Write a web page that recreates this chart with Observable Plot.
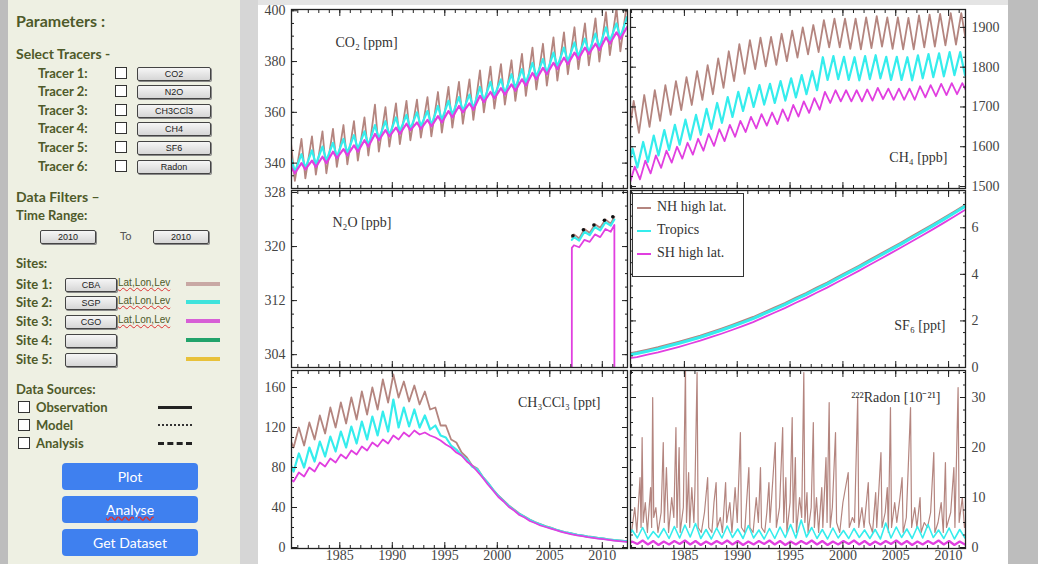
<!DOCTYPE html>
<html><head><meta charset="utf-8">
<script src="https://cdn.jsdelivr.net/npm/d3@7"></script>
<script src="https://cdn.jsdelivr.net/npm/@observablehq/plot@0.6"></script>
<style>
body{margin:0;background:#c4c4c4;}
#root{position:relative;width:1038px;height:564px;overflow:hidden;background:#bdbdbd;font-family:Lato,"Open Sans",sans-serif;}
#side{position:absolute;left:8px;top:0;width:232px;height:564px;background:#eef0e3;}
#gap{position:absolute;left:240px;top:0;width:18px;height:564px;background:#d6d6d6;}
#chart{position:absolute;left:258px;top:0;width:750px;height:564px;background:#fff;}
#chartTop{position:absolute;left:258px;top:0;width:750px;height:5px;background:#e4e4e4;}
.t{position:absolute;color:#4e5a2a;font-weight:700;white-space:nowrap;line-height:1;}
.cb{position:absolute;width:10px;height:10px;border:1.5px solid #333;background:#fff;}
.btn{position:absolute;height:12px;border:1px solid #444;border-radius:2px;background:linear-gradient(#f6f6f6,#d6d6d6);font:9px "Liberation Sans",sans-serif;color:#222;text-align:center;line-height:12px;box-shadow:1px 1px 0 #888;}
.ll{position:absolute;font:10px "Liberation Sans",sans-serif;color:#4e5a2a;text-decoration:underline wavy #d33;white-space:nowrap;}
.bar{position:absolute;height:4px;width:34px;}
.blue{position:absolute;left:62px;width:136px;height:27px;background:#3f80ef;border-radius:4px;color:#fff;font:14px Lato,"Open Sans",sans-serif;text-align:center;line-height:27px;}
.pl{position:absolute;}
#legend{position:absolute;left:632px;top:193px;width:110px;height:82px;border:1.5px solid #333;background:#fff;font:14px "Liberation Serif",serif;color:#333;}
#legend div{position:absolute;left:4px;white-space:nowrap;}
#legend span{display:inline-block;width:14px;height:2px;vertical-align:middle;margin-right:6px;}
</style>
</head><body>
<div id="root">
  <div id="side"></div><div id="gap"></div><div id="chart"></div><div id="chartTop"></div>
</div>
<script>
// ---------------- data ----------------
const colNH = "#b4857f", colTr = "#35eded", colSH = "#e13fe0";
const seriesNames = ["NH high lat.", "Tropics", "SH high lat."];

// CO2 [ppm], 1980..2012 : seasonal peak / trough
const co2Start = 1980;
const co2NHpk = [348,349.5,350.5,352.5,353.5,355,356.5,358,363,362,363.5,364.5,365,366,368,370,372,373,376.5,378,379,380.5,383,385.5,387,389.5,391.5,393.5,395,397,399.5,401,403];
const co2NHtr = [333,334,335.5,336,338.5,339.5,341,343,344.5,346.5,347.5,349,350,350.5,352,354,355.5,357,360,361.5,363,364.5,366.5,369,370.5,372.5,375,377,378.5,380,382.5,384,386];
const co2TRpk = [342,343.5,345,346.5,348,349.5,351,352.5,355,356.5,358,359,360,360.5,362.5,364.5,366,367,370,372,373,375,377,379.5,381,383.5,385.5,387.5,389,391,393.5,395,397.5];
const co2TRtr = [336.5,338,339.5,341,342.5,344,345.5,347,349.5,351,352.5,353.5,354.5,355,357,359,360.5,361.5,364.5,366.5,367.5,369.5,371.5,374,375.5,378,380,382,383.5,385.5,388,389.5,392];
const co2SHpk = [338.5,340,341,342.5,344.5,345.5,347,349,351.5,353,354,355.5,356,357,358.5,360.5,362.5,363.5,366.5,368,369.5,371,373,375.5,377.5,379.5,381.5,383.5,385.5,387,389.5,391.5,393.5];
const co2SHtr = [336,337.5,338.5,340,342,343,344.5,346.5,349,350.5,351.5,353,353.5,354.5,356,358,360,361,364,365.5,367,368.5,370.5,373,375,377,379,381,383,384.5,387,389,391];

// CH4 [ppb], 1979..2012
const ch4Start = 1979;
const ch4NHpk = [1700,1715,1730,1742,1755,1765,1775,1790,1805,1822,1840,1858,1868,1874,1876,1884,1892,1900,1906,1918,1922,1922,1922,1925,1928,1925,1925,1924,1930,1932,1934,1936,1936,1938];
const ch4NHtr = [1620,1635,1650,1665,1680,1692,1705,1718,1732,1748,1765,1783,1795,1802,1806,1815,1824,1832,1838,1850,1850,1846,1845,1848,1852,1846,1845,1845,1850,1852,1855,1857,1857,1858];
const ch4TRpk = [1580,1595,1612,1628,1642,1655,1668,1680,1695,1710,1725,1738,1748,1755,1758,1765,1772,1780,1790,1825,1828,1826,1825,1828,1830,1826,1826,1825,1830,1833,1835,1838,1838,1840];
const ch4TRtr = [1535,1548,1562,1578,1592,1605,1618,1630,1645,1660,1675,1690,1700,1706,1710,1716,1724,1732,1742,1768,1770,1768,1767,1770,1772,1768,1768,1767,1772,1775,1777,1780,1780,1782];
const ch4SHpk = [1535,1550,1565,1578,1590,1600,1610,1620,1632,1644,1655,1665,1675,1682,1686,1694,1705,1714,1722,1738,1742,1742,1742,1744,1748,1746,1746,1746,1752,1755,1758,1760,1760,1762];
const ch4SHtr = [1505,1518,1533,1547,1560,1570,1580,1590,1602,1614,1625,1637,1646,1653,1657,1665,1676,1685,1693,1710,1714,1714,1714,1716,1720,1718,1718,1718,1724,1727,1730,1732,1733,1734];

// N2O [ppb] : record only 2007-2011 (SH run drops to zero outside)
const n2oT  = [1980,2007.05,2007.1,2007.3,2007.8,2008.3,2008.8,2009.3,2009.8,2010.3,2010.8,2011.15,2011.2,2012.5];
const n2oNH = [null,null,321.4,321.8,321.2,322.6,322.0,323.3,322.8,324.0,323.4,324.4,null,null];
const n2oTR = [null,null,321.0,321.4,320.9,322.2,321.7,322.9,322.4,323.6,323.1,324.0,null,null];
const n2oSH = [0,0,319.8,320.2,319.9,321.0,320.7,321.8,321.4,322.6,322.2,323.2,0,0];
const n2oObsT = [2007.2,2008.2,2009.2,2010.2,2011.0];
const n2oObsV = [321.6,322.5,323.2,323.9,324.4];

// SF6 [ppt], annual 1979..2012
const sf6Start = 1979;
const sf6NH = [0.59,0.67,0.77,0.87,0.99,1.11,1.24,1.37,1.52,1.67,1.83,2.0,2.17,2.37,2.57,2.77,2.99,3.2,3.43,3.65,3.89,4.13,4.37,4.62,4.87,5.12,5.37,5.63,5.89,6.15,6.42,6.69,6.97,7.25];
const sf6TR = [0.52,0.6,0.7,0.8,0.92,1.04,1.17,1.3,1.45,1.6,1.76,1.93,2.1,2.3,2.5,2.7,2.92,3.13,3.36,3.58,3.82,4.06,4.3,4.55,4.8,5.05,5.3,5.56,5.82,6.08,6.35,6.62,6.9,7.18];
const sf6SH = [0.38,0.45,0.55,0.65,0.77,0.89,1.02,1.15,1.3,1.45,1.61,1.78,1.95,2.15,2.35,2.55,2.77,2.98,3.21,3.43,3.67,3.91,4.15,4.4,4.65,4.9,5.15,5.41,5.67,5.93,6.2,6.47,6.75,7.03];

// CH3CCl3 [ppt], 1979..2012
const mcStart = 1979;
const mcNHpk = [108,112,120,125,132,140,145,150,156,160,168,173,166,162,156,140,122,105,90,79,65,52,42,34,28,23.5,20,16.5,14,12,10.5,9,7.5,6.5];
const mcNHtr = [96,100,102,108,114,120,124,128,133,138,145,150,146,143,138,122,108,95,82,71,58,47,38,31,25.5,21.5,18,15,12.8,11,9.5,8.2,7,6];
const mcTRpk = [84,88,94,100,106,111,116,121,126,131,136,148,140,138,132,122,110,98,88,78,64.5,51.5,41.5,33.5,27.5,23,19.5,16.2,13.8,11.8,10.2,8.8,7.3,6.3];
const mcTRtr = [73,76,80,86,91,96,100,104,108,112,116,120,121,120,118,112,102,92,81,70.5,57.5,46.5,37.5,30.5,25,21,17.8,14.8,12.6,10.8,9.3,8,6.8,5.8];
const mcSHpk = [66,70,75,80,85,89,93,97,101,105,108,112,115,117,115,110,103,95,86,76,63,50.5,40.5,32.5,26.5,22,18.8,15.6,13.2,11.3,9.7,8.3,6.9,5.9];
const mcSHtr = [62,66,71,76,81,85,89,93,97,101,104,108,111,113,112,107,100,92,82,70,57,46,37,30,24.5,20.5,17.3,14.4,12.2,10.4,8.9,7.6,6.4,5.5];

// 222Radon [1e-21], NH high lat (spiky record)
const rnNHt = [1979.8,1980.0,1980.3,1980.5,1980.8,1980.9,1981.0,1981.1,1981.3,1981.5,1981.8,1981.9,1982.0,1982.1,1982.3,1982.5,1982.8,1983.0,1983.1,1983.3,1983.5,1983.8,1984.0,1984.2,1984.3,1984.5,1984.6,1984.9,1985.1,1985.2,1985.4,1985.5,1985.7,1985.9,1986.0,1986.2,1986.3,1986.6,1986.9,1987.2,1987.3,1987.6,1987.8,1988.0,1988.1,1988.4,1988.6,1988.9,1989.0,1989.3,1989.5,1989.8,1990.0,1990.3,1990.4,1990.7,1991.1,1991.2,1991.5,1991.8,1992.0,1992.2,1992.3,1992.6,1992.8,1993.0,1993.1,1993.6,1993.7,1994.0,1994.3,1994.4,1994.6,1994.7,1995.0,1995.2,1995.3,1995.5,1995.6,1995.9,1996.1,1996.3,1996.4,1996.6,1996.7,1997.0,1997.2,1997.3,1997.5,1997.7,1998.0,1998.1,1998.4,1998.5,1998.7,1998.8,1999.0,1999.3,1999.4,1999.7,2000.0,2000.5,2000.6,2000.9,2001.1,2001.4,2001.5,2001.8,2002.0,2002.4,2002.5,2002.8,2003.1,2003.2,2003.6,2003.7,2004.0,2004.2,2004.3,2004.5,2004.6,2004.9,2005.1,2005.4,2005.6,2005.7,2006.0,2006.4,2006.5,2006.8,2007.0,2007.3,2007.4,2007.7,2008.0,2008.3,2008.6,2008.7,2009.0,2009.3,2009.5,2009.7,2009.8,2010.2,2010.5,2010.6,2010.9,2011.0,2011.3,2011.5,2011.7];
const rnNHv = [4,3,8,3,14,4,22,5,9,3,12,4,30,6,8,3,7,21,5,16,3,10,6,24,4,20,3,8,36,5,15,4,12,5,12,35,4,3,7,14,4,3,9,13,4,6,3,13,5,9,3,12,5,23,4,3,16,4,3,10,5,16,4,3,7,13,5,21,4,8,24,5,14,3,9,26,5,18,3,10,6,35,5,11,3,8,25,4,10,3,12,4,18,5,29,4,8,23,5,3,9,15,4,6,5,30,4,8,4,13,5,3,11,4,19,4,7,12,3,28,4,9,5,10,14,3,6,28,4,8,4,10,3,5,4,7,19,3,5,9,3,17,4,7,16,4,32,5,10,4,6];
// Tropics / SH, 1979..2012 seasonal peak / trough
const rnStart = 1979;
const rnTRpk = [3.2,3.5,4.0,3.2,3.8,4.2,4.5,4.8,3.6,3.9,4.3,3.7,4.4,3.5,3.8,4.1,4.6,5.5,4.0,3.6,3.9,3.4,3.8,3.5,3.6,4.9,4.1,3.7,4.2,4.6,3.5,3.9,3.6,3.5];
const rnTRtr = [1.8,1.9,1.7,2.0,1.8,1.9,2.1,1.8,1.7,1.9,2.0,1.8,1.9,1.7,1.8,2.0,1.9,2.1,1.8,1.7,1.9,1.8,2.0,1.8,1.7,1.9,2.0,1.8,1.9,2.0,1.8,1.7,1.9,1.8];
const rnSHpk = [1.3,1.2,1.4,1.3,1.2,1.3,1.4,1.3,1.2,1.3,1.4,1.3,1.2,1.3,1.4,1.3,1.2,1.3,1.4,1.3,1.2,1.3,1.4,1.3,1.2,1.3,1.4,1.3,1.2,1.3,1.4,1.3,1.2,1.3];
const rnSHtr = [0.6,0.7,0.6,0.5,0.6,0.7,0.6,0.5,0.6,0.7,0.6,0.5,0.6,0.7,0.6,0.5,0.6,0.7,0.6,0.5,0.6,0.7,0.6,0.5,0.6,0.7,0.6,0.5,0.6,0.7,0.6,0.5,0.6,0.7];

// ticks
const xMajor = [1985,1990,1995,2000,2005,2010];
const xMinorAll = d3.range(1979,2014);

// ---------------- helpers ----------------
function zig(start, pk, tr, pPh, tPh){
  const out = [];
  pk.forEach((v,i)=>{ out.push({t:start+i+pPh, v}); out.push({t:start+i+tPh, v:tr[i]}); });
  return out;
}
function annual(start, arr){ return arr.map((v,i)=>({t:start+i+0.5, v})); }
function pairs(ts, vs){ return ts.map((t,i)=>({t, v:vs[i]})); }
const inDom = (arr, [a,b]) => arr.filter(v => v >= a && v <= b);

const root = document.getElementById("root");
const fmt = d => String(d);

function panel(o){
  const marks = [];
  for (const s of o.series) marks.push(Plot.line(s.data, {x:"t", y:"v", stroke:s.color, strokeWidth:s.w || 1.8, clip:true}));
  if (o.extra) marks.push(...o.extra);
  const xMinor = inDom(xMinorAll, o.xdom), yMinor = inDom(o.yMinor, o.ydom), yMajor = inDom(o.yMajor, o.ydom);
  // inward ticks on all four sides
  for (const a of ["top","bottom"]) {
    marks.push(Plot.axisX(xMinor, {anchor:a, tickSize:-3, tickFormat:()=>"", stroke:"#222", label:null}));
    marks.push(Plot.axisX(xMajor, {anchor:a, tickSize:-6, tickFormat:()=>"", stroke:"#222", label:null}));
  }
  for (const a of ["left","right"]) {
    marks.push(Plot.axisY(yMinor, {anchor:a, tickSize:-3, tickFormat:()=>"", stroke:"#222", label:null}));
    marks.push(Plot.axisY(yMajor, {anchor:a, tickSize:-6, tickFormat:()=>"", stroke:"#222", label:null}));
  }
  marks.push(Plot.axisY(yMajor, {anchor:o.yAnchor, tickSize:0, tickPadding:6, fill:"#444", fontSize:14, tickFormat:fmt, label:null}));
  if (o.showX) marks.push(Plot.axisX(xMajor, {anchor:"bottom", tickSize:0, tickPadding:2, fill:"#444", fontSize:14, tickFormat:fmt, label:null}));
  marks.push(Plot.frame({stroke:"#222", strokeWidth:1.3}));
  marks.push(Plot.text([o.label], {frameAnchor:o.lAnchor, dx:o.ldx, dy:o.ldy, textAnchor:o.lAnchor.endsWith("left")?"start":"end", lineAnchor:"middle", fontSize:14, fill:"#333", text:d=>d}));
  const svg = Plot.plot({
    width:o.w, height:o.h, marginLeft:o.ml, marginRight:o.mr, marginTop:o.mt, marginBottom:o.mb,
    x:{domain:o.xdom, axis:null}, y:{domain:o.ydom, axis:null},
    style:{fontFamily:"'Liberation Serif', serif", fontSize:"14px", background:"transparent", overflow:"visible"},
    marks
  });
  const d = document.createElement("div");
  d.className = "pl";
  d.style.left = o.left+"px"; d.style.top = o.top+"px"; d.style.width = o.w+"px"; d.style.height = o.h+"px";
  d.appendChild(svg);
  root.appendChild(d);
}

const L = {left:251, w:378, ml:40, mr:2, xdom:[1980.4,2012.4], yAnchor:"left"};
const R = {left:628, w:382, ml:2, mr:45, xdom:[1979.9,2011.6], yAnchor:"right"};
const T = {top:0, h:190, mt:9, mb:2};
const M = {top:186, h:183, mt:4, mb:2};
const B = {top:366, h:198, mt:4, mb:16, showX:true};

panel({...L, ...T, ydom:[330,400.5], yMajor:[340,360,380,400], yMinor:d3.range(330,401,5),
  series:[{data:zig(co2Start,co2NHpk,co2NHtr,0.35,0.72),color:colNH},{data:zig(co2Start,co2TRpk,co2TRtr,0.35,0.72),color:colTr,w:2.2},{data:zig(co2Start,co2SHpk,co2SHtr,0.35,0.72),color:colSH,w:2.2}],
  label:"CO₂ [ppm]", lAnchor:"top-left", ldx:44, ldy:33});
panel({...R, ...T, ydom:[1495,1945], yMajor:[1500,1600,1700,1800,1900], yMinor:d3.range(1500,1946,25),
  series:[{data:zig(ch4Start,ch4NHpk,ch4NHtr,0.2,0.7),color:colNH},{data:zig(ch4Start,ch4TRpk,ch4TRtr,0.1,0.55),color:colTr,w:2.2},{data:zig(ch4Start,ch4SHpk,ch4SHtr,0.3,0.8),color:colSH}],
  label:"CH₄ [ppb]", lAnchor:"top-right", ldx:-18, ldy:148});
panel({...L, ...M, ydom:[302.1,328.3], yMajor:[304,312,320,328], yMinor:d3.range(302,329,2),
  series:[{data:pairs(n2oT,n2oNH),color:colNH},{data:pairs(n2oT,n2oTR),color:colTr,w:2.2},{data:pairs(n2oT,n2oSH),color:colSH}],
  extra:[Plot.dot(pairs(n2oObsT,n2oObsV),{x:"t",y:"v",r:1.8,fill:"#111",clip:true})],
  label:"N₂O [ppb]", lAnchor:"top-left", ldx:41, ldy:32});
panel({...R, ...M, ydom:[0,7.6], yMajor:[0,2,4,6], yMinor:d3.range(0,7.6,0.5),
  series:[{data:annual(sf6Start,sf6NH),color:colNH},{data:annual(sf6Start,sf6SH),color:colSH},{data:annual(sf6Start,sf6TR),color:colTr,w:3}],
  label:"SF₆ [ppt]", lAnchor:"top-right", ldx:-20, ldy:135});
panel({...L, ...B, ydom:[-1,177], yMajor:[0,40,80,120,160], yMinor:d3.range(0,177,10),
  series:[{data:zig(mcStart,mcNHpk,mcNHtr,0.1,0.6),color:colNH},{data:zig(mcStart,mcTRpk,mcTRtr,0.1,0.6),color:colTr,w:2.2},{data:zig(mcStart,mcSHpk,mcSHtr,0.1,0.6),color:colSH}],
  label:"CH₃CCl₃ [ppt]", lAnchor:"top-right", ldx:-27, ldy:32});
panel({...R, ...B, ydom:[-0.2,35.4], yMajor:[0,10,20,30], yMinor:d3.range(0,35.5,2.5),
  series:[{data:pairs(rnNHt,rnNHv),color:colNH,w:1.2},{data:zig(rnStart,rnTRpk,rnTRtr,0.05,0.55),color:colTr,w:1.6},{data:zig(rnStart,rnSHpk,rnSHtr,0.05,0.55),color:colSH,w:2.2}],
  label:"²²²Radon [10⁻²¹]", lAnchor:"top-right", ldx:-25, ldy:27});

// legend (inside SF6 panel)
const lg = document.createElement("div"); lg.id = "legend";
[colNH,colTr,colSH].forEach((c,i)=>{
  const r = document.createElement("div");
  r.style.top = (14 + i*23 - 9) + "px";
  r.innerHTML = `<span style="background:${c}"></span>${seriesNames[i]}`;
  lg.appendChild(r);
});
root.appendChild(lg);

// ---------------- left control panel ----------------
function txt(s, left, cy, size, extra){
  const d = document.createElement("div"); d.className = "t"; d.textContent = s;
  d.style.left = left+"px"; d.style.top = (cy - size/2)+"px"; d.style.fontSize = size+"px";
  if (extra) Object.assign(d.style, extra);
  root.appendChild(d); return d;
}
function el(cls, left, top, w, h, text){
  const d = document.createElement("div"); d.className = cls;
  d.style.left = left+"px"; d.style.top = top+"px";
  if (w!=null) d.style.width = w+"px"; if (h!=null) d.style.height = h+"px";
  if (text!=null) d.textContent = text;
  root.appendChild(d); return d;
}
txt("Parameters :", 16, 21, 16);
txt("Select Tracers -", 16, 54, 14);
const tracers = ["CO2","N2O","CH3CCl3","CH4","SF6","Radon"];
const trY = [73,91,110,128,147,166];
tracers.forEach((n,i)=>{
  txt(`Tracer ${i+1}:`, 38, trY[i], 13);
  el("cb", 115, trY[i]-6, null, null);
  el("btn", 137, trY[i]-6, 72, null, n);
});
txt("Data Filters –", 16, 197, 14);
txt("Time Range:", 16, 215, 13);
el("btn", 40, 230, 54, null, "2010");
txt("To", 120, 235, 11, {fontWeight:"400", color:"#555"});
el("btn", 153, 230, 54, null, "2010");
txt("Sites:", 16, 263, 13);
const sites = ["CBA","SGP","CGO","",""];
const siteY = [284,302,321,340,359];
const siteCol = ["#c8a8a4","#3fe3dc","#d75fd6","#22a36b","#e8c13a"];
sites.forEach((n,i)=>{
  txt(`Site ${i+1}:`, 16, siteY[i], 13);
  el("btn", 65, siteY[i]-6, 50, null, n);
  if (n) { el("ll", 118, siteY[i]-7, null, null, "Lat,Lon,Lev"); }
  const b = el("bar", 186, siteY[i]-2, null, null); b.style.background = siteCol[i];
});
txt("Data Sources:", 16, 389, 13);
const srcs = ["Observation","Model","Analysis"];
const srcY = [407,425,443];
srcs.forEach((n,i)=>{
  el("cb", 18, srcY[i]-6, null, null);
  txt(n, 36, srcY[i], 13);
});
const s1 = el("pl", 158, 406, 34, 3); s1.style.background = "#222";
const s2 = el("pl", 158, 424, 34, 0); s2.style.borderTop = "2px dotted #333";
const s3 = el("pl", 158, 442, 34, 0); s3.style.borderTop = "3px dashed #222";
el("blue", 62, 463, null, null, "Plot");
const an = el("blue", 62, 496, null, null, "Analyse"); an.style.textDecoration = "underline wavy #d33";
el("blue", 62, 529, null, null, "Get Dataset");
</script>
</body></html>
